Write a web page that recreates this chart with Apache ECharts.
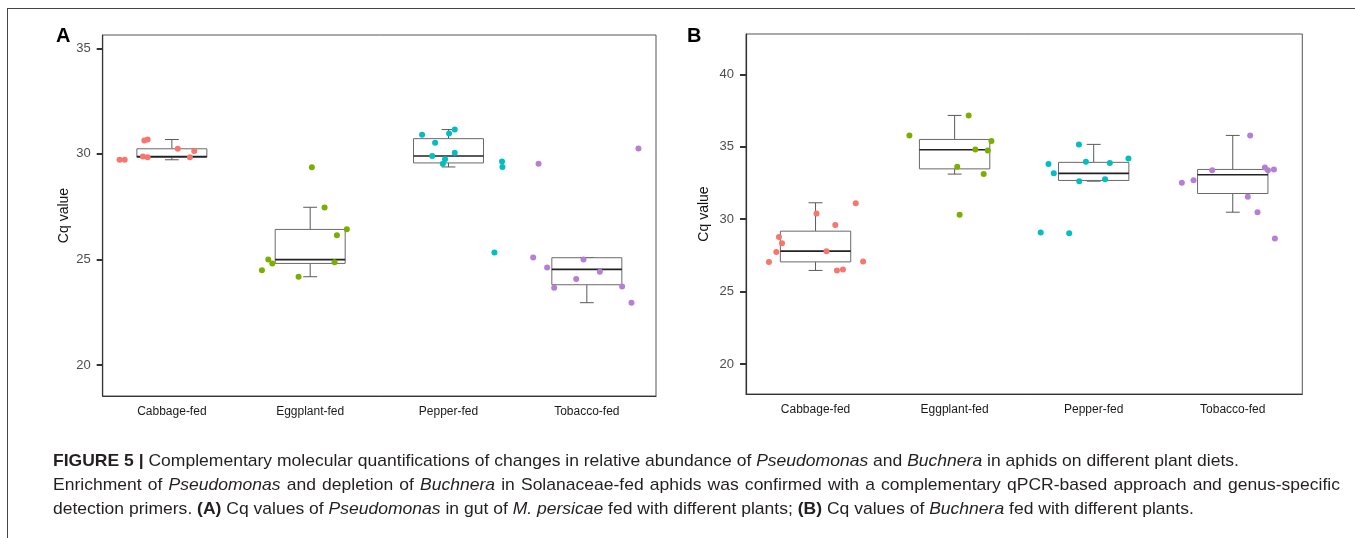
<!DOCTYPE html>
<html>
<head>
<meta charset="utf-8">
<script src="https://cdn.jsdelivr.net/npm/echarts@6/dist/echarts.min.js"></script>
<style>
  html, body { margin: 0; padding: 0; background: #fff; }
  #wrap { position: relative; width: 1355px; height: 538px; overflow: hidden; }
  #chart-container { position: absolute; left: 0; top: 0; width: 1355px; height: 538px; }
  #frame { position: absolute; left: 7px; top: 8px; right: 0; bottom: 0;
    border-top: 1.5px solid #444; border-left: 1.5px solid #444; pointer-events: none; }
  #caption { position: absolute; left: 53px; top: 449px; font-family: 'Liberation Sans', Arial, sans-serif;
    font-size: 17px; color: #231f20; line-height: 24px; }
  #caption div { white-space: nowrap; transform-origin: 0 50%; width: max-content; }
</style>
</head>
<body>
<div id="wrap">
  <div id="chart-container"></div>
  <div id="frame"></div>
  <div id="caption">
    <div id="cap1"><b>FIGURE 5 |</b> Complementary molecular quantifications of changes in relative abundance of <i>Pseudomonas</i> and <i>Buchnera</i> in aphids on different plant diets.</div>
    <div id="cap2">Enrichment of <i>Pseudomonas</i> and depletion of <i>Buchnera</i> in Solanaceae-fed aphids was confirmed with a complementary qPCR-based approach and genus-specific</div>
    <div id="cap3">detection primers. <b>(A)</b> Cq values of <i>Pseudomonas</i> in gut of <i>M. persicae</i> fed with different plants; <b>(B)</b> Cq values of <i>Buchnera</i> fed with different plants.</div>
  </div>
</div>
<script>
var categories = ['Cabbage-fed', 'Eggplant-fed', 'Pepper-fed', 'Tobacco-fed'];
var colors = ['#F8766D', '#7CAE00', '#00BFC4', '#B57FD6'];

// panel A: Pseudomonas Cq values, with horizontal jitter (in category widths)
var aCabbage = [29.72, 29.72, 30.63, 30.68, 29.87, 29.84, 30.24, 30.14, 29.84];
var aCabbageJit = [-0.378, -0.341, -0.199, -0.175, -0.209, -0.175, 0.043, 0.162, 0.130];
var aEggplant = [29.37, 27.46, 26.43, 26.14, 24.87, 24.99, 24.81, 24.49, 24.18];
var aEggplantJit = [0.012, 0.104, 0.265, 0.193, 0.176, -0.303, -0.274, -0.349, -0.084];
var aPepper = [30.91, 30.96, 31.15, 30.53, 30.05, 29.90, 29.75, 29.53, 29.64, 29.38, 25.33];
var aPepperJit = [-0.191, 0.004, 0.045, -0.097, 0.045, -0.118, -0.025, -0.041, 0.387, 0.390, 0.332];
var aTobacco = [29.53, 30.25, 25.09, 24.62, 25.00, 24.42, 24.07, 23.66, 23.72, 22.95];
var aTobaccoJit = [-0.349, 0.373, -0.388, -0.287, -0.024, 0.094, -0.077, -0.236, 0.255, 0.323];
// [lower whisker, Q1, median, Q3, upper whisker]
var boxA = [
  [29.72, 29.84, 29.87, 30.24, 30.68],
  [24.18, 24.81, 24.99, 26.42, 27.47],
  [29.38, 29.57, 29.90, 30.72, 31.15],
  [22.95, 23.80, 24.53, 25.08, 25.09]
];

// panel B: Buchnera Cq values
var bCabbage = [27.05, 27.74, 28.76, 28.34, 30.39, 27.79, 29.59, 26.46, 26.53, 31.10, 27.08];
var bCabbageJit = [-0.335, -0.282, -0.263, -0.241, 0.007, 0.079, 0.142, 0.154, 0.197, 0.289, 0.342];
var bEggplant = [35.78, 37.16, 35.39, 34.81, 34.74, 33.61, 33.11, 30.30];
var bEggplantJit = [-0.325, 0.101, 0.265, 0.149, 0.238, 0.019, 0.209, 0.036];
var bPepper = [33.80, 33.16, 35.16, 33.96, 33.87, 34.19, 32.62, 32.76, 29.08, 29.03];
var bPepperJit = [-0.325, -0.287, -0.106, -0.056, 0.116, 0.250, -0.104, 0.082, -0.381, -0.176];
var bTobacco = [32.51, 32.69, 33.38, 35.78, 33.57, 33.38, 33.43, 31.54, 30.48, 28.67];
var bTobaccoJit = [-0.366, -0.282, -0.148, 0.125, 0.231, 0.253, 0.296, 0.108, 0.178, 0.303];
var boxB = [
  [26.46, 27.05, 27.79, 29.17, 31.13],
  [33.11, 33.47, 34.79, 35.50, 37.16],
  [32.62, 32.67, 33.16, 33.92, 35.16],
  [30.48, 31.77, 33.06, 33.43, 35.78]
];

var ticksA = [20, 25, 30, 35];
var ticksB = [20, 25, 30, 35, 40];

var font = 'Liberation Sans';

function jitterPoints(vals, jit, idx) {
  return vals.map(function (v, i) { return [idx + jit[i], v]; });
}

function renderBox(params, api) {
  var c = api.value(0);
  var lo = api.coord([c, api.value(1)]);
  var q1 = api.coord([c, api.value(2)]);
  var md = api.coord([c, api.value(3)]);
  var q3 = api.coord([c, api.value(4)]);
  var hi = api.coord([c, api.value(5)]);
  var band = api.size([1, 0])[0];
  var hw = band * 0.253;
  var cw = band * 0.05;
  var x = md[0];
  var line = { stroke: '#5a5a5a', lineWidth: 1 };
  return {
    type: 'group',
    children: [
      { type: 'line', shape: { x1: x, y1: q3[1], x2: x, y2: hi[1] }, style: line },
      { type: 'line', shape: { x1: x, y1: q1[1], x2: x, y2: lo[1] }, style: line },
      { type: 'line', shape: { x1: x - cw, y1: hi[1], x2: x + cw, y2: hi[1] }, style: line },
      { type: 'line', shape: { x1: x - cw, y1: lo[1], x2: x + cw, y2: lo[1] }, style: line },
      { type: 'rect', shape: { x: x - hw, y: q3[1], width: hw * 2, height: q1[1] - q3[1] },
        style: { fill: '#fff', stroke: '#6a6a6a', lineWidth: 1 } },
      { type: 'line', shape: { x1: x - hw, y1: md[1], x2: x + hw, y2: md[1] },
        style: { stroke: '#222', lineWidth: 1.6 } }
    ]
  };
}

function boxData(boxes) {
  return boxes.map(function (b, i) { return [i].concat(b); });
}

function catAxis(gi) {
  return {
    type: 'category', gridIndex: gi, data: categories,
    axisLine: { onZero: false, lineStyle: { color: '#333', width: 1.2 } },
    axisTick: { alignWithLabel: true, length: 6, lineStyle: { color: '#333', width: 2 } },
    axisLabel: { color: '#1a1a1a', fontSize: 12, fontFamily: font, margin: 10 }
  };
}
function jitAxis(gi) {
  return { type: 'value', gridIndex: gi, min: -0.5, max: 3.5, show: false };
}
function valAxis(gi, min, max, ticks, gap) {
  return {
    type: 'value', gridIndex: gi, min: min, max: max,
    name: 'Cq value', nameLocation: 'middle', nameGap: gap,
    nameTextStyle: { color: '#111', fontSize: 14, fontFamily: font },
    splitLine: { show: false },
    axisLine: { show: true, onZero: false, lineStyle: { color: '#333', width: 1.2 } },
    axisTick: { show: true, length: 6, customValues: ticks, lineStyle: { color: '#333', width: 2 } },
    axisLabel: { color: '#4d4d4d', fontSize: 13, fontFamily: font, margin: 12, customValues: ticks }
  };
}

var groupsA = [[aCabbage, aCabbageJit], [aEggplant, aEggplantJit], [aPepper, aPepperJit], [aTobacco, aTobaccoJit]];
var groupsB = [[bCabbage, bCabbageJit], [bEggplant, bEggplantJit], [bPepper, bPepperJit], [bTobacco, bTobaccoJit]];

var series = [];
[[boxA, groupsA, 0], [boxB, groupsB, 1]].forEach(function (p) {
  var g = p[2];
  series.push({
    type: 'custom', xAxisIndex: g * 2, yAxisIndex: g,
    renderItem: renderBox, data: boxData(p[0]),
    encode: { x: 0, y: [1, 2, 3, 4, 5] }, z: 2, silent: true
  });
  p[1].forEach(function (grp, i) {
    series.push({
      type: 'scatter', xAxisIndex: g * 2 + 1, yAxisIndex: g,
      data: jitterPoints(grp[0], grp[1], i),
      symbolSize: 6, itemStyle: { color: colors[i], opacity: 1 }, z: 3, silent: true
    });
  });
});

var dom = document.getElementById('chart-container');
var myChart = echarts.init(dom, null, { renderer: 'canvas' });

var option = {
  animation: false,
  backgroundColor: 'transparent',
  grid: [
    { left: 102.7, top: 35, width: 553.3, height: 361, show: true, borderColor: '#555', borderWidth: 1 },
    { left: 746, top: 34, width: 556.3, height: 360, show: true, borderColor: '#555', borderWidth: 1 }
  ],
  xAxis: [catAxis(0), jitAxis(0), catAxis(1), jitAxis(1)],
  yAxis: [
    valAxis(0, 18.53, 35.63, ticksA, 32),
    valAxis(1, 17.93, 42.78, ticksB, 35)
  ],
  graphic: [
    { type: 'text', left: 56, top: 26, style: { text: 'A', font: 'bold 20px Liberation Sans', fill: '#000' } },
    { type: 'text', left: 687, top: 26, style: { text: 'B', font: 'bold 20px Liberation Sans', fill: '#000' } }
  ],
  series: series
};

myChart.setOption(option);

// caption: one horizontal scale for all lines, line 2 justified to the full width
var cap1 = document.getElementById('cap1');
var cap2 = document.getElementById('cap2');
var cap3 = document.getElementById('cap3');
var s = 1186 / cap1.getBoundingClientRect().width;
var w2 = cap2.getBoundingClientRect().width;
var spaces = cap2.textContent.split(' ').length - 1;
cap2.style.wordSpacing = Math.max(0, (1287 / s - w2) / spaces) + 'px';
[cap1, cap2, cap3].forEach(function (el) { el.style.transform = 'scaleX(' + s + ')'; });

window.addEventListener('resize', myChart.resize);
</script>
</body>
</html>
